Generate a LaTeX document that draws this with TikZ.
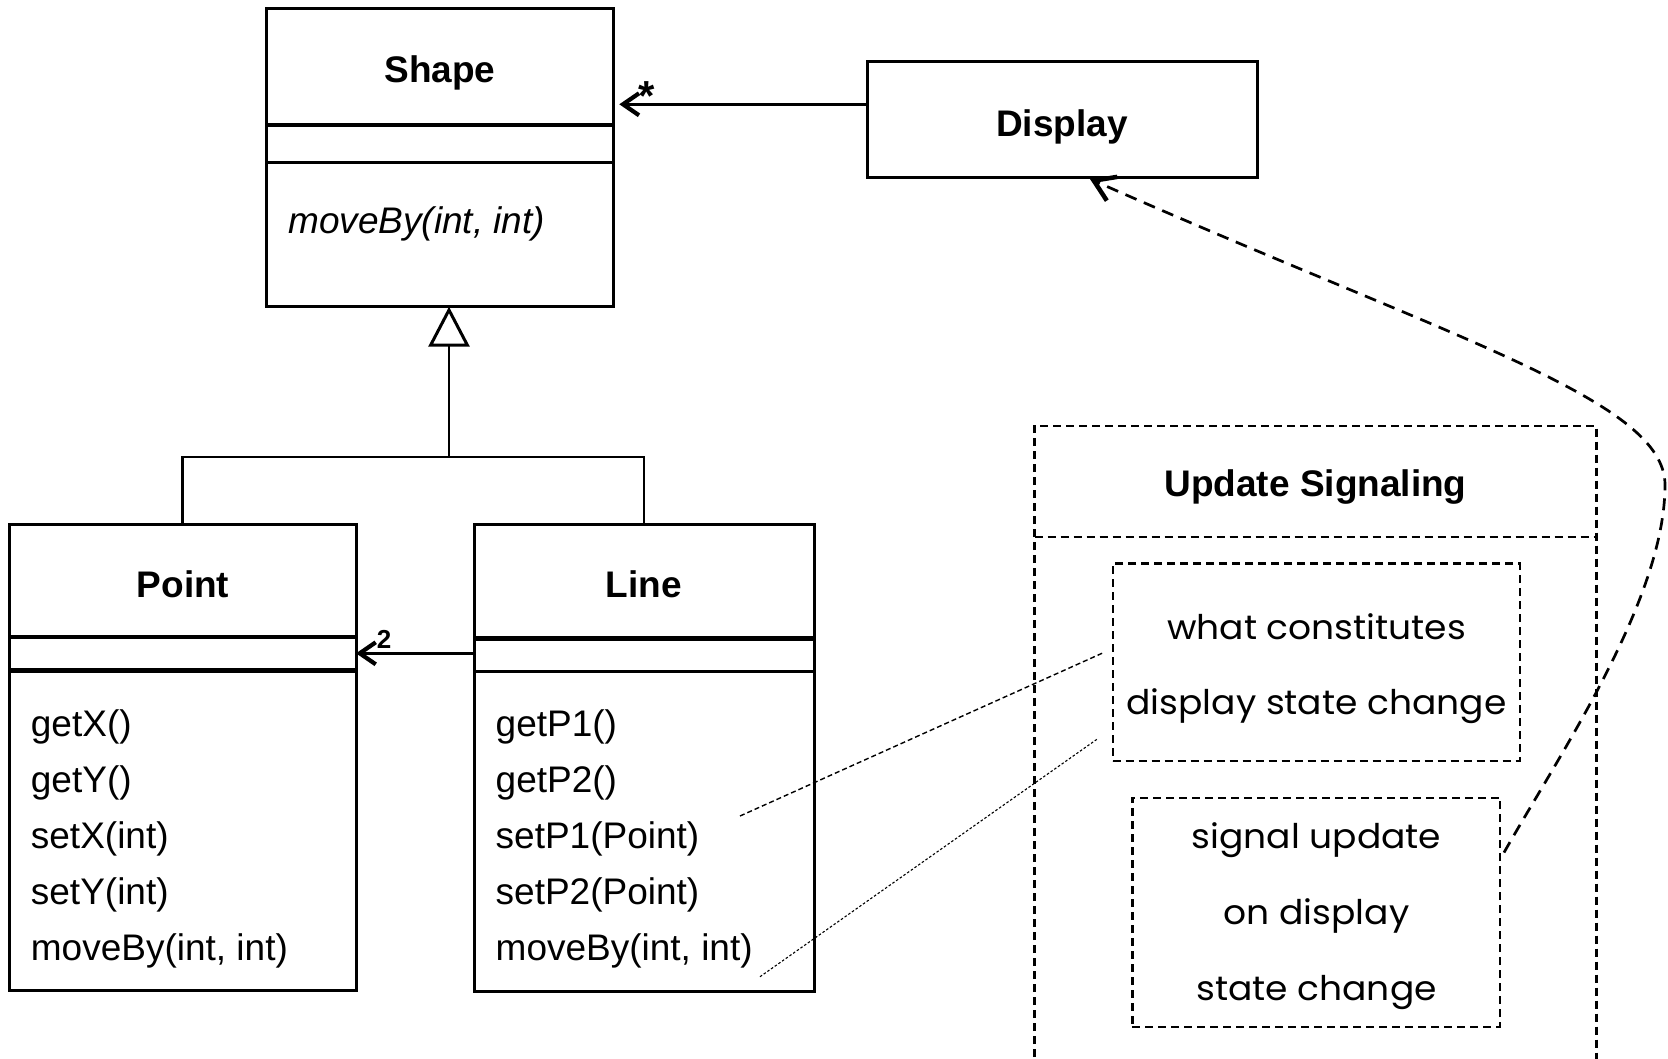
\documentclass[tikz,border=0pt]{standalone}
\usepackage{fontspec}
\setmainfont{Liberation Sans}
\newfontfamily\gothic[FakeStretch=1.06]{Poppins}
\usetikzlibrary{arrows.meta,calc}

\tikzset{
  classbox/.style={draw, line width=3pt, rectangle, inner sep=0pt, outer sep=0pt, anchor=north west},
  classname/.style={font=\fontsize{37}{44}\selectfont\bfseries, anchor=base, inner sep=0pt},
  member/.style={font=\fontsize{37}{44}\selectfont, anchor=base west, inner sep=0pt},
  thicksep/.style={line width=4.5pt},
  thinsep/.style={line width=3pt},
  assoc/.style={line width=2.4pt, -{Straight Barb[length=16pt,width=22pt,line width=4.2pt]}},
  dashframe/.style={line width=2.2pt, dash pattern=on 8pt off 5pt},
  notebox/.style={draw, dashframe, rectangle, inner sep=0pt, outer sep=0pt, anchor=north west},
  notetext/.style={font=\gothic\fontsize{34}{40}\selectfont, anchor=base, inner sep=0pt},
  mult/.style={anchor=base, inner sep=0pt},
}

\begin{document}
\begin{tikzpicture}[x=1pt,y=-1pt]
\fill[white] (0,0) rectangle (1668,1058);
\useasboundingbox (0,0) rectangle (1668,1058);

% ---- class Shape ----
\node[classbox, minimum width=346.6pt, minimum height=298.4pt] (shape) at (266.7,8.3) {};
\draw[thicksep] (shape.west |- 0,125) -- (shape.east |- 0,125);
\draw[thinsep] (shape.west |- 0,162) -- (shape.east |- 0,162);
\node[classname] (shapeT) at (440,82.7) {Shape};
\node[member, font=\fontsize{37}{44}\selectfont\itshape] (shapeM) at (288,233) {moveBy(int, int)};

% ---- class Display ----
\node[classbox, minimum width=390.4pt, minimum height=116pt] (display) at (867,61.7) {};
\node[classname] (displayT) at (1062,136) {Display};

% ---- class Point ----
\node[classbox, minimum width=346.4pt, minimum height=466pt] (point) at (9.6,524.5) {};
\draw[thicksep] (point.west |- 0,637) -- (point.east |- 0,637);
\draw[thicksep] (point.west |- 0,670.7) -- (point.east |- 0,670.7);
\node[classname] (pointT) at (183,597) {Point};
\node[member] (pm1) at (30.7,736) {getX()};
\node[member] (pm2) at (30.7,792) {getY()};
\node[member] (pm3) at (30.7,848) {setX(int)};
\node[member] (pm4) at (30.7,904) {setY(int)};
\node[member] (pm5) at (30.7,960) {moveBy(int, int)};

% ---- class Line ----
\node[classbox, minimum width=340pt, minimum height=467pt] (line) at (474,524.5) {};
\draw[thicksep] (line.west |- 0,638.3) -- (line.east |- 0,638.3);
\draw[thinsep] (line.west |- 0,671.7) -- (line.east |- 0,671.7);
\node[classname] (lineT) at (644,597) {Line};
\node[member] (lm1) at (495.5,736) {getP1()};
\node[member] (lm2) at (495.5,792) {getP2()};
\node[member] (lm3) at (495.5,848) {setP1(Point)};
\node[member] (lm4) at (495.5,904) {setP2(Point)};
\node[member] (lm5) at (495.5,960) {moveBy(int, int)};

% ---- associations ----
\draw[assoc, shorten >=6pt] (display.west |- 0,104.3) -- (shape.east |- 0,104.3);
\node[mult, font=\fontsize{42}{42}\selectfont\bfseries] (mstar) at (646.7,110) {*};
\draw[assoc] (line.west |- 0,653.3) -- (point.east |- 0,653.3);
\node[mult, font=\fontsize{26}{26}\selectfont\bfseries] (mtwo) at (384,648) {2};

% ---- generalization ----
\coordinate (gen) at (449,457);
\draw[line width=2.8pt] (point.north) |- (gen) -| (line.north);
\draw[line width=2.8pt, -{Triangle[open, length=40pt, width=41pt, line width=3pt]}] (gen) -- (gen |- shape.south);

% ---- Update Signaling aspect ----
\draw[dashframe] (1034.5,1070) |- (1596.4,425.7) -- (1596.4,1070);
\draw[dashframe] (1034.5,537) -- (1596.4,537);
\node[classname] (usig) at (1315.5,496) {Update Signaling};

\node[notebox, minimum width=407pt, minimum height=197.5pt] (box1) at (1112.7,563.5) {};
\node[notetext] (b1l1) at (1316.5,639.3) {what constitutes};
\node[notetext] (b1l2) at (1316.5,714) {display state change};

\node[notebox, minimum width=367.6pt, minimum height=229pt] (box2) at (1132.4,797.6) {};
\node[notetext] (b2l1) at (1316.5,848) {signal update};
\node[notetext] (b2l2) at (1316.5,924) {on display};
\node[notetext] (b2l3) at (1316.5,1000) {state change};

% ---- note links to Line members ----
\coordinate (n1a) at (740,816);
\coordinate (n1b) at (1103.3,652.7);
\draw[line width=1.4pt, dash pattern=on 5pt off 3pt] (n1a) -- (n1b);
\coordinate (n2a) at (760,976.7);
\coordinate (n2b) at (1098.3,738.3);
\draw[line width=1.1pt, dash pattern=on 2.5pt off 2pt] (n2a) -- (n2b);

% ---- update signal to Display ----
\coordinate (sigstart) at ($(box2.north east)!0.24!(box2.south east)+(4,0)$);
\coordinate (disptip) at ($(display.south west)+(223,1.3)$);
\draw[line width=2.7pt, dash pattern=on 12pt off 8pt,
      -{Straight Barb[length=20pt,width=26pt,line width=4.5pt]}]
  (sigstart) .. controls (1559,755) and (1665,600) .. (1665,485)
             .. controls (1665,400) and (1456,340.6) .. (disptip);
\end{tikzpicture}
\end{document}
